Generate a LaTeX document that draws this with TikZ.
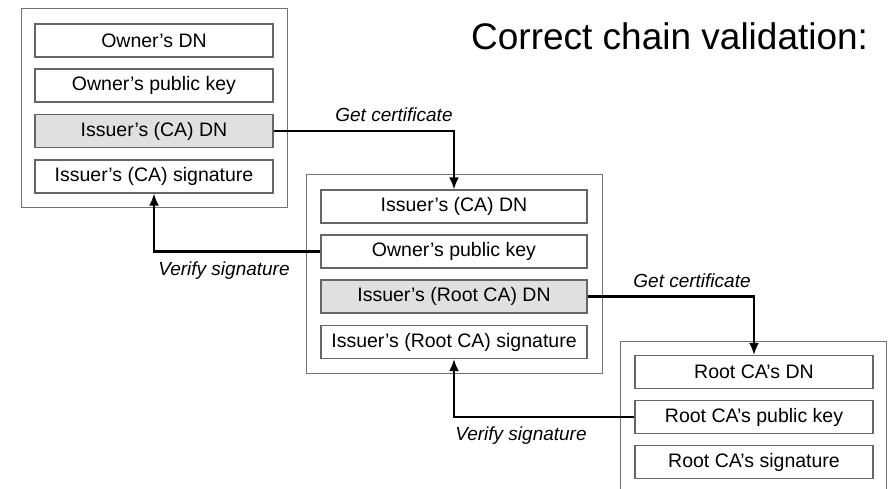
\documentclass[tikz,border=0pt]{standalone}
\usepackage{fontspec}
\setmainfont{Liberation Sans}
\usetikzlibrary{arrows.meta}
\begin{document}
\begin{tikzpicture}[x=1pt,y=-1pt,
  frame/.style={draw=black!55,line width=1pt,fill=white},
  field/.style={draw=black!60,line width=1.1pt,fill=white,inner sep=0pt,
    minimum height=33pt,font=\fontsize{19.5}{22}\selectfont},
  keyfield/.style={field,fill=black!12},
  w1/.style={minimum width=238pt},
  w2/.style={minimum width=266pt},
  link/.style={line width=2.3pt,-{Latex[length=12pt,width=10pt]}},
  tag/.style={font=\fontsize{19}{22}\selectfont\itshape,anchor=base}]
\useasboundingbox (0,0) rectangle (888,489);
\clip (0,0) rectangle (888,489);

% certificate frames
\draw[frame] (21,9) rectangle (287,207) coordinate (frameA);
\draw[frame] (306,175) rectangle (602,373) coordinate (frameB);
\draw[frame] (620,341) rectangle (886,500) coordinate (frameC);

% end-entity certificate
\node[field,w1]    (a1) at (154,40.5)  {Owner’s DN};
\node[field,w1]    (a2) at (154,85.5)  {Owner’s public key};
\node[keyfield,w1] (a3) at (154,131)   {Issuer’s (CA) DN};
\node[field,w1]    (a4) at (154,176.5) {Issuer’s (CA) signature};

% intermediate CA certificate
\node[field,w2]    (b1) at (454,206.5) {Issuer’s (CA) DN};
\node[field,w2]    (b2) at (454,251.5) {Owner’s public key};
\node[keyfield,w2] (b3) at (454,296.5) {Issuer’s (Root CA) DN};
\node[field,w2]    (b4) at (454,342)   {Issuer’s (Root CA) signature};

% root CA certificate
\node[field,w1] (c1) at (754,372) {Root CA’s DN};
\node[field,w1] (c2) at (754,417) {Root CA’s public key};
\node[field,w1] (c3) at (754,462) {Root CA’s signature};

% heading
\node[anchor=base west,inner sep=0pt,font=\fontsize{37}{40}\selectfont]
  (title) at (471,50) {Correct chain validation:};

% chain links
\draw[link] (a3.east) -| (b1.north);
\draw[link] (b2.west) -| (a4.south);
\draw[link] (b3.east) -| (c1.north);
\draw[link] (c2.west) -| (b4.south);

\node[tag] (g1) at (394,122) {Get certificate};
\node[tag] (v1) at (224,275) {Verify signature};
\node[tag] (g2) at (692,287) {Get certificate};
\node[tag] (v2) at (521,440) {Verify signature};
\end{tikzpicture}
\end{document}
